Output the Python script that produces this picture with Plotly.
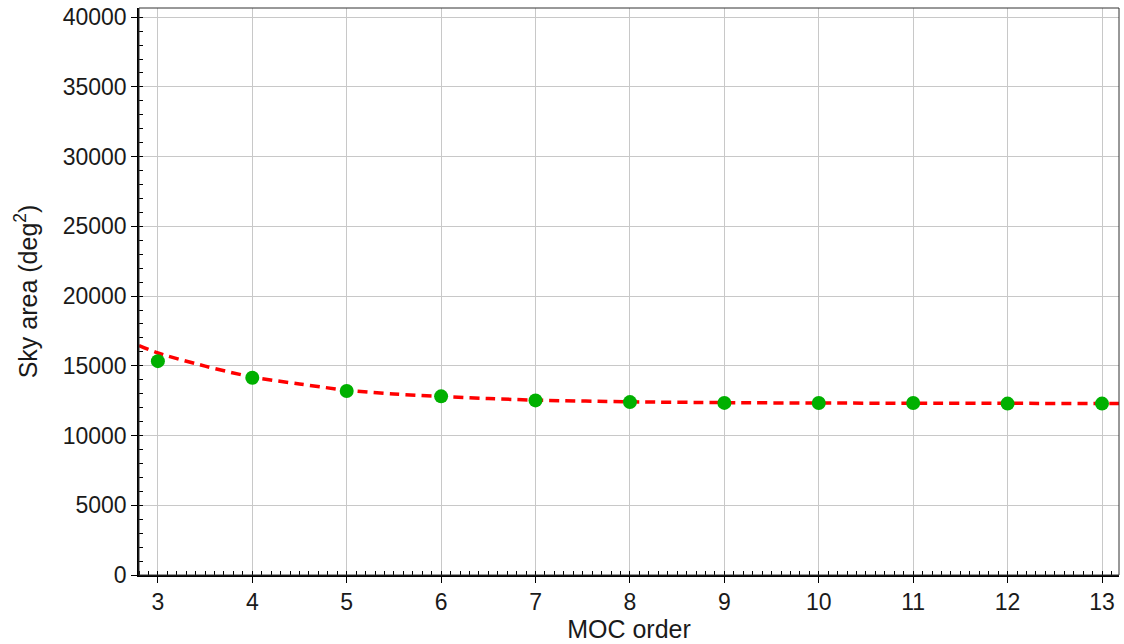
import plotly.graph_objects as go

# Data
orders = [3, 4, 5, 6, 7, 8, 9, 10, 11, 12, 13]
sky_area = [15335, 14150, 13190, 12810, 12520, 12400, 12340, 12330, 12330, 12290, 12290]

# Fitted (dashed) curve, read at sample points
fit_x = [2.8, 3.0, 3.5, 4.0, 4.5, 5.0, 5.5, 6.0, 6.5, 7.0, 8.0, 9.0, 10.0, 11.0, 12.0, 13.0, 13.18]
fit_y = [16450, 15920, 14980, 14200, 13700, 13250, 12980, 12800, 12650, 12540, 12420, 12360, 12330, 12320, 12310, 12300, 12300]

x_ticks = list(range(3, 14))
y_ticks = list(range(0, 40001, 5000))

FONT = "Liberation Sans"

fig = go.Figure()
fig.add_trace(go.Scatter(
    x=fit_x, y=fit_y, mode="lines",
    line=dict(color="#ff0000", width=3.5, dash="10px,6px", shape="spline", smoothing=0.8),
    showlegend=False, hoverinfo="skip",
))
fig.add_trace(go.Scatter(
    x=orders, y=sky_area, mode="markers",
    marker=dict(color="#00b000", size=14, line=dict(width=0)),
    showlegend=False,
))

fig.update_layout(
    width=1124, height=644,
    margin=dict(l=139, r=5, t=8, b=69),
    plot_bgcolor="white", paper_bgcolor="white",
    font=dict(family=FONT, size=23, color="#1a1a1a"),
    xaxis=dict(
        range=[2.8, 13.18], tickvals=x_ticks, ticktext=[str(v) for v in x_ticks],
        showgrid=True, gridcolor="#c8c8c8", gridwidth=1,
        showline=True, linecolor="black", linewidth=1.5,
        ticks="outside", ticklen=6, tickcolor="black", tickwidth=1,
        minor=dict(dtick=0.1, ticks="inside", ticklen=4, tickcolor="black", showgrid=False),
        zeroline=False,
        title=dict(text="MOC order", standoff=6, font=dict(size=25)),
        tickfont=dict(size=23),
    ),
    yaxis=dict(
        range=[0, 40660], tickvals=y_ticks, ticktext=[str(v) for v in y_ticks],
        showgrid=True, gridcolor="#c8c8c8", gridwidth=1,
        showline=True, linecolor="black", linewidth=1.5,
        ticks="outside", ticklen=6, tickcolor="black", tickwidth=1,
        minor=dict(dtick=1000, ticks="inside", ticklen=4, tickcolor="black", showgrid=False),
        zeroline=False,
        title=dict(text="Sky area (deg<sup>2</sup>)", standoff=18, font=dict(size=25)),
        tickfont=dict(size=23),
    ),
    shapes=[dict(type="rect", xref="x domain", yref="y domain", x0=0, x1=1, y0=0, y1=1,
                 line=dict(color="#333333", width=1), fillcolor="rgba(0,0,0,0)", layer="above")],
)

fig.write_html("out.html", config={"displayModeBar": False},
               post_script="document.body.style.margin='0';document.body.style.overflow='hidden';")
